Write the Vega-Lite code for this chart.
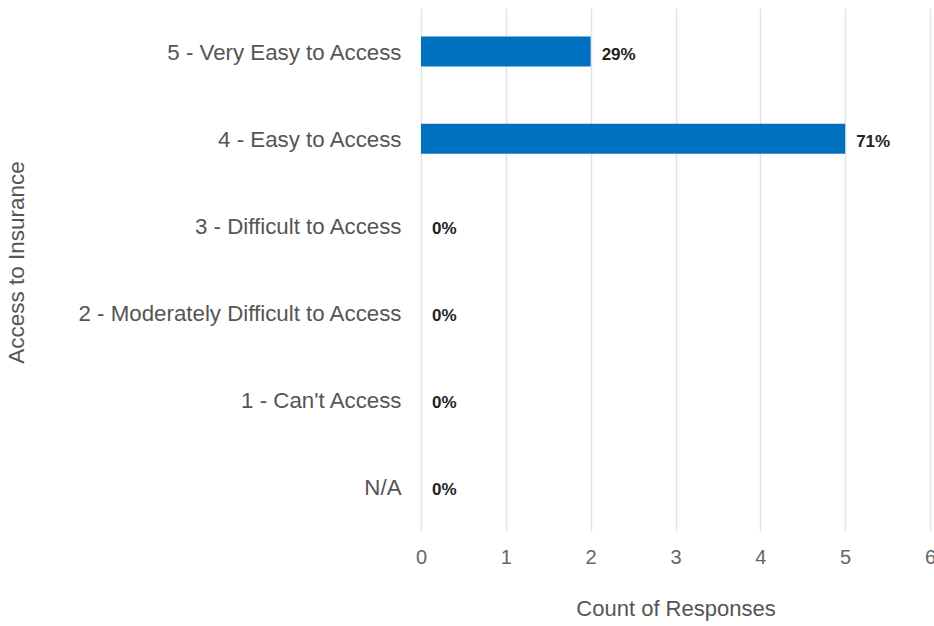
{
  "$schema": "https://vega.github.io/schema/vega-lite/v6.json",
  "width": 509,
  "height": 523,
  "autosize": {"type": "none"},
  "padding": {"left": 421, "top": 8, "right": 4, "bottom": 95},
  "config": {"view": {"stroke": null}, "font": "Liberation Sans"},
  "data": {
    "values": [
      {"category": "5 - Very Easy to Access", "count": 2, "label": "29%"},
      {"category": "4 - Easy to Access", "count": 5, "label": "71%"},
      {"category": "3 - Difficult to Access", "count": 0, "label": "0%"},
      {"category": "2 - Moderately Difficult to Access", "count": 0, "label": "0%"},
      {"category": "1 - Can't Access", "count": 0, "label": "0%"},
      {"category": "N/A", "count": 0, "label": "0%"}
    ]
  },
  "encoding": {
    "y": {
      "field": "category",
      "type": "nominal",
      "sort": null,
      "scale": {"paddingInner": 0.655, "paddingOuter": 0.3275},
      "axis": {
        "ticks": false,
        "domain": false,
        "labelPadding": 20,
        "labelFontSize": 22.3,
        "labelColor": "#555555",
        "labelLimit": 400,
        "labelOffset": 1,
        "title": "Access to Insurance",
        "titleFontSize": 22.5,
        "titleFontWeight": "normal",
        "titleColor": "#555555",
        "titleX": -393,
        "titleY": 254
      }
    },
    "x": {
      "field": "count",
      "type": "quantitative",
      "scale": {"domain": [0, 6], "nice": false},
      "axis": {
        "values": [0, 1, 2, 3, 4, 5, 6],
        "grid": true,
        "gridColor": "#e3e3e3",
        "gridWidth": 1.5,
        "domain": false,
        "ticks": false,
        "labelFlush": false,
        "labelPadding": 16,
        "labelFontSize": 20,
        "labelColor": "#666666",
        "title": "Count of Responses",
        "titleFontSize": 22,
        "titleFontWeight": "normal",
        "titleColor": "#555555",
        "titlePadding": 31
      }
    }
  },
  "layer": [
    {"mark": {"type": "bar", "color": "#0070c0"}},
    {
      "mark": {"type": "text", "align": "left", "baseline": "middle", "dx": 11, "dy": 3, "fontSize": 17, "fontWeight": "bold", "color": "#222222"},
      "encoding": {"text": {"field": "label"}}
    }
  ]
}
